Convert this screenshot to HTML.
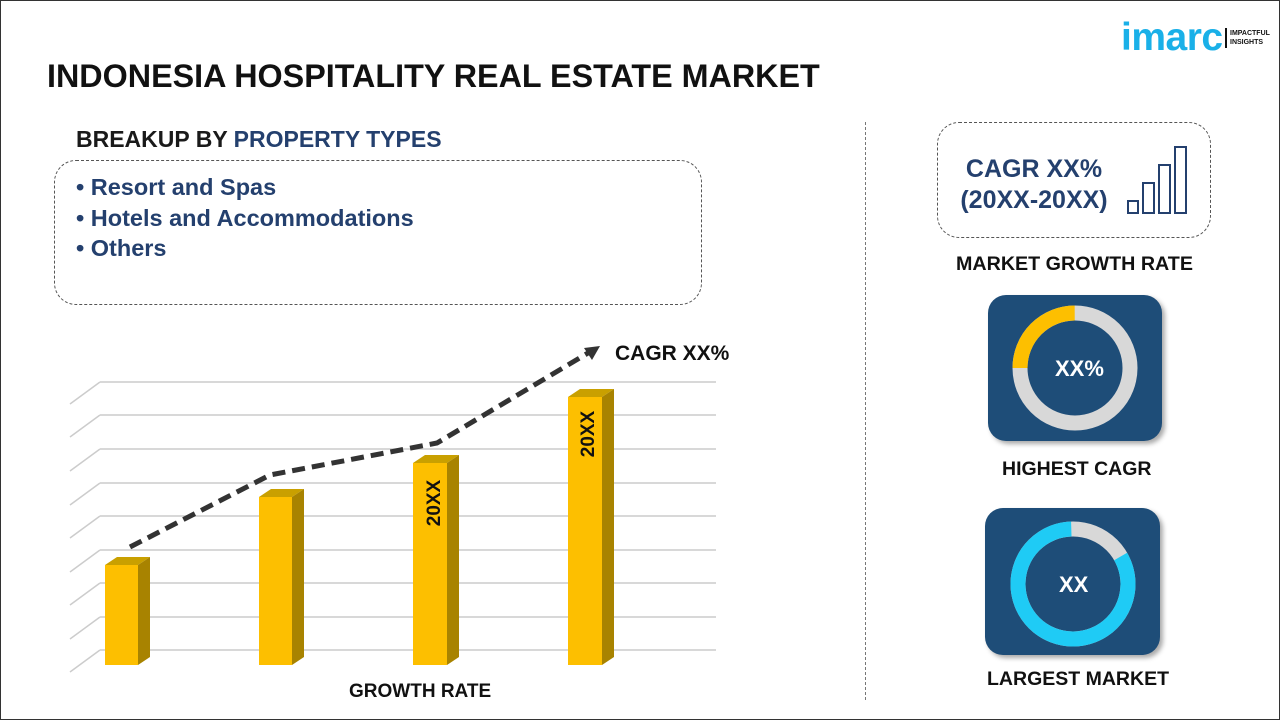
<!DOCTYPE html>
<html><head><meta charset="utf-8"><style>
body{margin:0;width:1280px;height:720px;overflow:hidden;background:#fff;font-family:"Liberation Sans",Arial,sans-serif;}
.f{position:absolute;box-sizing:border-box;border:1px solid #333;left:0;top:0;width:1280px;height:720px;}
.t{position:absolute;font-weight:bold;white-space:nowrap;}
</style></head><body>
<div class="f"></div>
<div class="t" style="left:47px;top:58px;font-size:32.3px;color:#111;">INDONESIA HOSPITALITY REAL ESTATE MARKET</div>
<div class="t" style="left:76px;top:126px;font-size:23px;color:#1a1a1a;">BREAKUP BY <span style="color:#24406e">PROPERTY TYPES</span></div>
<div style="position:absolute;left:54px;top:160px;width:648px;height:145px;border:1.5px dashed #555;border-radius:22px;box-sizing:border-box;"></div>
<div class="t" style="left:76px;top:172px;font-size:23.5px;color:#24406e;line-height:30.5px;">• Resort and Spas<br>• Hotels and Accommodations<br>• Others</div>
<div style="position:absolute;left:865px;top:122px;width:0;height:578px;border-left:1.5px dashed #777;"></div>
<svg width="1280" height="720" style="position:absolute;left:0;top:0">
<g stroke="#ccc" stroke-width="1.5" fill="none">
<path d="M100 382H716M70 404L100 382"/>
<path d="M100 415H716M70 437L100 415"/>
<path d="M100 449H716M70 471L100 449"/>
<path d="M100 483H716M70 505L100 483"/>
<path d="M100 516H716M70 538L100 516"/>
<path d="M100 550H716M70 572L100 550"/>
<path d="M100 583H716M70 605L100 583"/>
<path d="M100 617H716M70 639L100 617"/>
<path d="M100 650H716M70 672L100 650"/>
</g>
<g>
<polygon points="105,565 117,557 150,557 138,565" fill="#c9a000"/><rect x="105" y="565" width="33" height="100" fill="#fdbf00"/><polygon points="138,565 150,557 150,657 138,665" fill="#a88300"/>
<polygon points="259,497 271,489 304,489 292,497" fill="#c9a000"/><rect x="259" y="497" width="33" height="168" fill="#fdbf00"/><polygon points="292,497 304,489 304,657 292,665" fill="#a88300"/>
<polygon points="413,463 425,455 459,455 447,463" fill="#c9a000"/><rect x="413" y="463" width="34" height="202" fill="#fdbf00"/><polygon points="447,463 459,455 459,657 447,665" fill="#a88300"/>
<polygon points="568,397 580,389 614,389 602,397" fill="#c9a000"/><rect x="568" y="397" width="34" height="268" fill="#fdbf00"/><polygon points="602,397 614,389 614,657 602,665" fill="#a88300"/>
</g>
<polyline points="130,547 270,475 437,443 588,353" fill="none" stroke="#333" stroke-width="5" stroke-dasharray="13,7"/>
<polygon points="600,346 584,348 592,360" fill="#333"/>
<text x="440" y="503" transform="rotate(-90 440 503)" text-anchor="middle" font-family="Liberation Sans" font-weight="bold" font-size="19" fill="#111">20XX</text>
<text x="594" y="434" transform="rotate(-90 594 434)" text-anchor="middle" font-family="Liberation Sans" font-weight="bold" font-size="19" fill="#111">20XX</text>
<g stroke="#24406e" stroke-width="2" fill="#fff"><rect x="1128" y="201" width="10" height="12"/><rect x="1143" y="183" width="11" height="30"/><rect x="1159" y="165" width="11" height="48"/><rect x="1175" y="147" width="11" height="66"/></g>
</svg>
<div class="t" style="left:615px;top:342px;font-size:21px;color:#111;">CAGR XX%</div>
<div class="t" style="left:349px;top:681px;font-size:19px;color:#111;">GROWTH RATE</div>
<div style="position:absolute;left:937px;top:122px;width:274px;height:116px;border:1.5px dashed #555;border-radius:22px;box-sizing:border-box;"></div>
<div class="t" style="left:954px;top:154px;font-size:25px;color:#24406e;line-height:31px;text-align:center;width:160px;">CAGR XX%<br>(20XX-20XX)</div>
<div class="t" style="left:956px;top:253px;font-size:19.7px;color:#111;">MARKET GROWTH RATE</div>
<div style="position:absolute;left:988px;top:295px;width:174px;height:146px;background:#1e4d78;border-radius:18px;box-shadow:3px 3px 5px #aaa;"></div>
<svg width="1280" height="720" style="position:absolute;left:0;top:0">
<circle cx="1075" cy="368" r="55" fill="none" stroke="#d8d8d8" stroke-width="15"/>
<circle cx="1075" cy="368" r="55" fill="none" stroke="#fdbf00" stroke-width="15" stroke-dasharray="86 400" transform="rotate(-180 1075 368)"/>
<circle cx="1073" cy="584" r="55" fill="none" stroke="#d8d8d8" stroke-width="15"/>
<circle cx="1073" cy="584" r="55" fill="none" stroke="#1fcbf5" stroke-width="15" stroke-dasharray="286 400" transform="rotate(-30 1073 584)"/>
</svg>
<div class="t" style="left:1055px;top:356px;font-size:22px;color:#fff;">XX%</div>
<div class="t" style="left:1002px;top:458px;font-size:19.5px;color:#111;">HIGHEST CAGR</div>
<div style="position:absolute;left:985px;top:508px;width:175px;height:147px;background:#1e4d78;border-radius:18px;box-shadow:3px 3px 5px #aaa;z-index:-1;"></div>
<div class="t" style="left:1059px;top:572px;font-size:22px;color:#fff;">XX</div>
<div class="t" style="left:987px;top:668px;font-size:19.5px;color:#111;">LARGEST MARKET</div>
<div class="t" style="left:1121px;top:16px;font-size:39px;color:#1ab0e8;letter-spacing:-0.5px;">imarc</div>
<div style="position:absolute;left:1225px;top:28px;width:2px;height:20px;background:#111;"></div>
<div class="t" style="left:1230px;top:29px;font-size:7px;line-height:9px;color:#111;">IMPACTFUL<br>INSIGHTS</div>
</body></html>
